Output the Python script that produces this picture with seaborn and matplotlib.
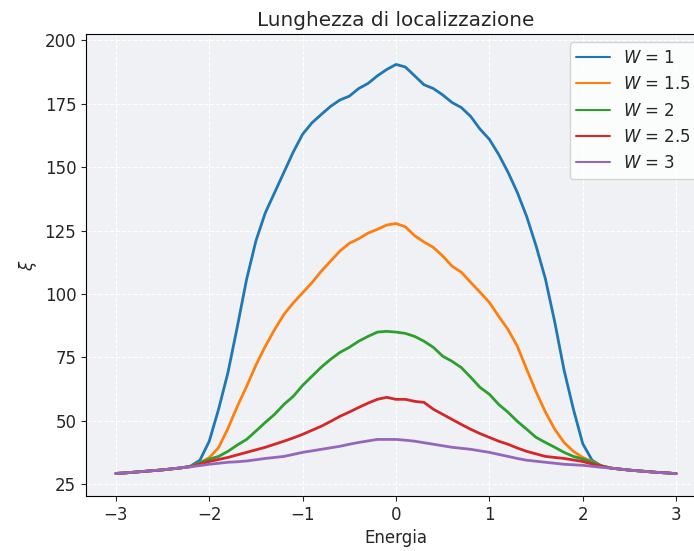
import numpy as np
import pandas as pd
import matplotlib
matplotlib.use("Agg")
import matplotlib.pyplot as plt
import seaborn as sns

# Energia da -3 a 3, passo 0.1
ENERGY = np.round(np.arange(-30, 31) / 10, 1)

# code comuni (tutte le curve coincidono per |E| > 2.2)
TAIL_LEFT = [29.3, 29.5, 29.8, 30.1, 30.4, 30.7, 31.1, 31.5]
TAIL_RIGHT = [31.4, 31.0, 30.6, 30.3, 30.0, 29.7, 29.5, 29.2]

# parte centrale, E da -2.2 a 2.2
XI_W1 = [32.2, 34.5, 42, 54.6, 69, 87, 105.8, 121, 132, 140, 148, 156, 163, 167.5,
         170.8, 174, 176.5, 178, 181, 183, 186, 188.5, 190.5, 189.5, 186, 182.5, 181,
         178.5, 175.5, 173.5, 170, 165, 161, 155, 148, 140, 130.5, 119, 106, 89, 70,
         54.6, 41, 34.5, 32.2]
XI_W15 = [32, 33.5, 35.5, 39.5, 47, 55.7, 63.6, 72, 79.4, 86, 92, 96.5, 100.5, 104.5,
          109, 113, 117, 120, 121.8, 124, 125.5, 127.2, 127.8, 126.5, 123, 120.5, 118.4,
          115, 111, 108.6, 104.6, 100.7, 96.7, 91.2, 86, 79.4, 70.3, 61.5, 53.5, 46.7,
          41.5, 38, 35.6, 34, 32.3]
XI_W2 = [32, 33.5, 34.9, 36, 38, 40.5, 42.7, 46, 49.4, 52.6, 56.5, 59.7, 64, 67.6,
         71.2, 74.3, 77, 79, 81.4, 83.3, 85, 85.3, 85, 84.5, 83.3, 81.4, 79, 75.5, 73.5,
         71, 67.2, 63.2, 60.5, 56.5, 53.4, 49.8, 46.7, 43.5, 41.5, 39.6, 37.6, 36, 35,
         33.8, 32.3]
XI_W25 = [32, 33, 34, 34.8, 35.6, 36.6, 37.6, 38.6, 39.6, 40.8, 42, 43.3, 44.7, 46.3,
          47.9, 49.8, 51.8, 53.5, 55.3, 57, 58.5, 59.3, 58.5, 58.5, 57.7, 57.3, 54.6,
          52.6, 50.6, 48.6, 46.7, 45, 43.5, 42, 40.8, 39.3, 38, 37, 36, 35.6, 35.2,
          34.6, 34, 33, 32.2]
XI_W3 = [31.9, 32.4, 32.9, 33.3, 33.7, 33.9, 34.2, 34.7, 35.2, 35.6, 36, 36.8, 37.6,
         38.2, 38.8, 39.4, 40, 40.8, 41.5, 42.1, 42.7, 42.7, 42.7, 42.4, 42, 41.4, 40.8,
         40.2, 39.6, 39.2, 38.8, 38.2, 37.6, 36.8, 36, 35.2, 34.5, 34.1, 33.7, 33.3,
         32.9, 32.7, 32.5, 32.1, 31.7]

W_LABELS = ["1", "1.5", "2", "2.5", "3"]
SERIES = [XI_W1, XI_W15, XI_W2, XI_W25, XI_W3]

rows = []
for w, mid in zip(W_LABELS, SERIES):
    xi = TAIL_LEFT + mid + TAIL_RIGHT
    for e, v in zip(ENERGY, xi):
        rows.append({"Energia": e, "xi": v, "W": f"$W$ = {w}"})
df = pd.DataFrame(rows)

sns.set_style("ticks", rc={
    "axes.facecolor": "#f0f1f4",
    "axes.edgecolor": "black",
    "axes.grid": True,
    "grid.color": "white",
    "grid.linestyle": "--",
    "grid.linewidth": 0.8,
})
plt.rcParams["font.family"] = ["DejaVu Sans"]
plt.rcParams["font.size"] = 12

fig = plt.figure(figsize=(6.94, 5.51), dpi=100)
ax = fig.add_axes([86 / 694, 55 / 551, 620 / 694, 462 / 551])

sns.lineplot(data=df, x="Energia", y="xi", hue="W", palette="tab10",
             estimator=None, linewidth=2.0, ax=ax)

ax.set_xlim(-3.32, 3.32)
ax.set_ylim(20.4, 202.5)
ax.set_xticks([-3, -2, -1, 0, 1, 2, 3])
ax.set_yticks([25, 50, 75, 100, 125, 150, 175, 200])
ax.set_title("Lunghezza di localizzazione", fontsize=14.4)
ax.set_xlabel("Energia", fontsize=12)
ax.set_ylabel(r"$\xi$", fontsize=12)
ax.tick_params(labelsize=12)

leg = ax.legend(loc="upper right", fontsize=12, title=None, frameon=True)
leg.get_frame().set_facecolor("white")
leg.get_frame().set_alpha(0.8)
for line in leg.get_lines():
    line.set_linewidth(1.5)

fig.savefig("out.png", dpi=100)
